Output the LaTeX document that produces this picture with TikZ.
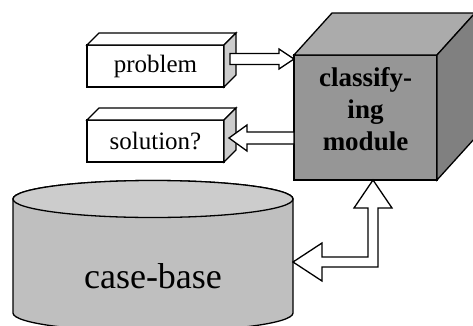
\documentclass[tikz,border=0pt]{standalone}
\usepackage{fontspec}
\setmainfont{Liberation Serif}
\usetikzlibrary{calc}
\definecolor{cubefront}{gray}{0.59}
\definecolor{cubetop}{gray}{0.67}
\definecolor{cubeside}{gray}{0.50}
\definecolor{boxside}{gray}{0.80}
\definecolor{cylbody}{gray}{0.75}
\definecolor{cyltop}{gray}{0.80}
\tikzset{
  inbox/.style={draw,fill=white,outer sep=0pt,inner sep=0pt,minimum width=137pt,minimum height=42pt,font=\fontsize{25}{28}\selectfont},
  blockarrow/.style={draw,fill=white},
}
\begin{document}
\begin{tikzpicture}[x=1pt,y=1pt,line width=1.3pt,line join=miter]
    \useasboundingbox (0,0) rectangle (473,325);

    \draw[fill=cylbody] (13,126) -- (13,12) arc[start angle=180,end angle=360,x radius=140,y radius=18.5] -- (293,126) arc[start angle=0,end angle=180,x radius=140,y radius=18.5] -- cycle;
    \draw[fill=cyltop] (153,126) ellipse[x radius=140,y radius=18.5];
    \node[font=\fontsize{36}{40}\selectfont](cb)at(153,49) {case-base};
    \coordinate (cbright) at (293,63);

    \node[inbox](problem)at(155.5,259) {problem};
    \node[inbox](solution)at(155.5,184) {solution?};
    \foreach \b in {problem,solution}{
        \draw[fill=white] (\b.north west) -- ++(12,12) -- ($(\b.north east)+(12,12)$) -- (\b.north east) -- cycle;
        \draw[fill=boxside] (\b.north east) -- ++(12,12) -- ($(\b.south east)+(12,12)$) -- (\b.south east) -- cycle;
    }

    \node[draw,fill=cubefront,outer sep=0pt,minimum width=143pt,minimum height=125pt](cube)at(365.5,207.5) {};
    \draw[fill=cubetop] (cube.north west) -- ++(38,42) -- ($(cube.north east)+(38,42)$) -- (cube.north east) -- cycle;
    \draw[fill=cubeside] (cube.north east) -- ++(38,42) -- ($(cube.south east)+(38,42)$) -- (cube.south east) -- cycle;
    \node[font=\fontsize{27}{32}\selectfont\bfseries,align=center](cubetext)at($(cube.center)+(0,8)$) {classify-\\ing\\module};

    \coordinate (pin) at ($(problem.east)+(6,7)$);
    \coordinate (ptip) at (cube.west |- pin);
    \draw[blockarrow] ($(pin)+(0,5.5)$) -- ($(ptip)+(-15,5.5)$) -- ($(ptip)+(-15,10)$) -- (ptip) -- ($(ptip)+(-15,-10)$) -- ($(ptip)+(-15,-5.5)$) -- ($(pin)+(0,-5.5)$) -- cycle;

    \coordinate (stip) at ($(solution.east)+(5,3)$);
    \coordinate (sout) at (cube.west |- stip);
    \draw[blockarrow] ($(sout)+(0,6)$) -- ($(stip)+(18,6)$) -- ($(stip)+(18,13)$) -- (stip) -- ($(stip)+(18,-13)$) -- ($(stip)+(18,-6)$) -- ($(sout)+(0,-6)$) -- cycle;

    \coordinate (ctip) at ($(cube.south)+(7.5,0)$);
    \coordinate (outer) at ($(ctip)+(5,0)$);
    \coordinate (inner) at ($(ctip)+(-5,0)$);
    \coordinate (lowr) at ($(cbright)+(0,-5)$);
    \coordinate (upr) at ($(cbright)+(0,5)$);
    \draw[blockarrow] (ctip) -- ($(ctip)+(19,-28)$) -- ($(ctip)+(5,-28)$) -- (outer |- lowr) -- ($(cbright)+(29,-5)$) -- ($(cbright)+(29,-19)$) -- (cbright) -- ($(cbright)+(29,19)$) -- ($(cbright)+(29,5)$) -- (inner |- upr) -- ($(ctip)+(-5,-28)$) -- ($(ctip)+(-19,-28)$) -- cycle;
\end{tikzpicture}
\end{document}
